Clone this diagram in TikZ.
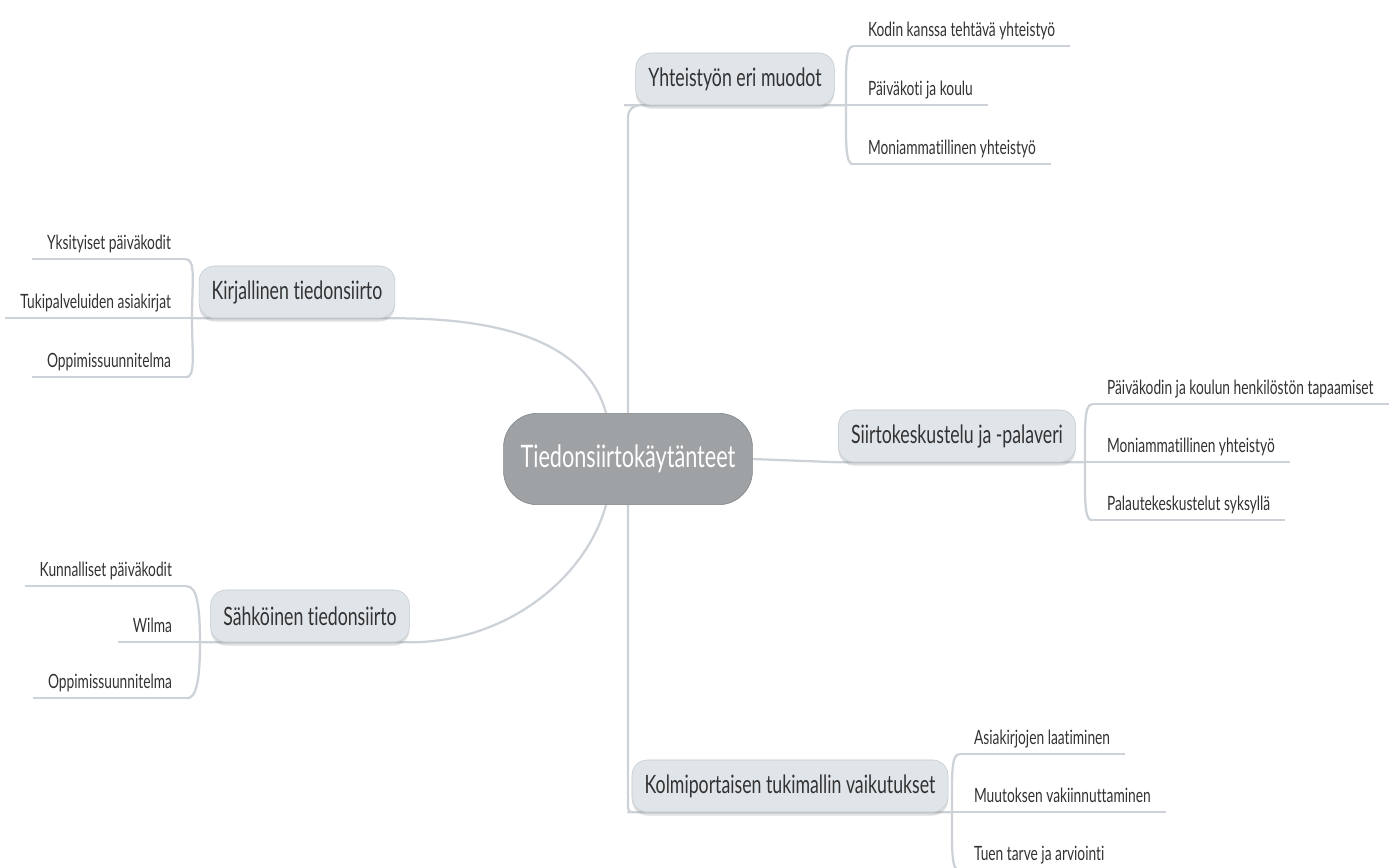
\documentclass[tikz,border=0pt]{standalone}
\usepackage{fontspec}
\setmainfont{Lato}[FakeStretch=0.7, Ligatures=NoCommon]
\usetikzlibrary{calc,backgrounds,shadows}
\definecolor{linegray}{RGB}{204,210,215}
\definecolor{topicfill}{RGB}{224,229,233}
\definecolor{topicdraw}{RGB}{196,202,207}
\definecolor{hubfill}{RGB}{158,162,165}
\definecolor{hubdraw}{RGB}{128,132,135}
\definecolor{inkgray}{RGB}{50,50,50}
\begin{document}
\begin{tikzpicture}[x=0.025cm, y=-0.025cm, line join=round, line cap=round]
		\tikzset{
		hub/.style={draw=hubdraw, fill=hubfill, text=white, rounded corners=24pt, minimum width=177pt, minimum height=65pt, font=\fontsize{22}{26}\selectfont},
		topic/.style={draw=topicdraw, fill=topicfill, text=inkgray, rounded corners=11pt, minimum height=37pt, inner xsep=9pt, font=\fontsize{18}{22}\selectfont, drop shadow={shadow xshift=0pt, shadow yshift=-2.5pt, opacity=.25}},
		leaf/.style={text=inkgray, inner xsep=10.5pt, inner ysep=7pt, text depth=0pt, font=\fontsize{14}{17}\selectfont},
		link/.style={draw=linegray, line width=1.6pt}
		}
		\useasboundingbox (0,0) rectangle (1395,868);
		\node[hub] (hub) at (628,459) {Tiedonsiirtokäytänteet};
		\node[topic] (yht) at (735,79) {Yhteistyön eri muodot};
		\node[topic] (kir) at (297,292) {Kirjallinen tiedonsiirto};
		\node[topic] (sah) at (310,616) {Sähköinen tiedonsiirto};
		\node[topic] (sii) at (957,436) {Siirtokeskustelu ja -palaveri};
		\node[topic] (kol) at (790,786) {Kolmiportaisen tukimallin vaikutukset};
		\coordinate (yhtj) at (846,0 |- yht.south);
		\coordinate (kirj) at (192,0 |- kir.south);
		\coordinate (sahj) at (200,0 |- sah.south);
		\coordinate (siij) at (1085,0 |- sii.south);
		\coordinate (kolj) at (952,0 |- kol.south);
		% leaves
		\foreach \t [count=\i from 0] in {Kodin kanssa tehtävä yhteistyö, Päiväkoti ja koulu, Moniammatillinen yhteistyö}
		\node[leaf, anchor=south west] (yht\i) at ($(yhtj)+(7,59*\i-59)$) {\t};
		\foreach \t [count=\i from 0] in {Yksityiset päiväkodit, Tukipalveluiden asiakirjat, Oppimissuunnitelma}
		\node[leaf, anchor=south east] (kir\i) at ($(kirj)+(-6,59*\i-59)$) {\t};
		\foreach \t [count=\i from 0] in {Kunnalliset päiväkodit, Wilma, Oppimissuunnitelma}
		\node[leaf, anchor=south east] (sah\i) at ($(sahj)+(-13,56*\i-56)$) {\t};
		\foreach \t [count=\i from 0] in {Päiväkodin ja koulun henkilöstön tapaamiset, Moniammatillinen yhteistyö, Palautekeskustelut syksyllä}
		\node[leaf, anchor=south west] (sii\i) at ($(siij)+(7,58*\i-58)$) {\t};
		\foreach \t [count=\i from 0] in {Asiakirjojen laatiminen, Muutoksen vakiinnuttaminen, Tuen tarve ja arviointi}
		\node[leaf, anchor=south west] (kol\i) at ($(kolj)+(7,58*\i-58)$) {\t};
		\begin{pgfonlayer}{background}
		% hub to topics
		\draw[link, rounded corners=8pt] (hub.north) |- (yht.south west) -- (yhtj);
		\draw[link, rounded corners=3pt] (hub.south) |- (kol.south west) -- (kolj);
		\draw[link] (hub.east) -- (sii.south west) -- (siij);
		\draw[link] ($(hub.north)+(-22,0)$) .. controls +(-20,-73) and +(102,0) .. (kir.south east) -- (kir.south west) -- (kirj);
		\draw[link] ($(hub.south)+(-22,0)$) .. controls +(-20,73) and +(97,0) .. (sah.south east) -- (sah.south west) -- (sahj);
		% brackets
		\foreach \b in {yht,sii,kol}{
		\draw[link] (\b0.south west) .. controls +(-8,0) and +(0,-35) .. (\b j) .. controls +(0,35) and +(-8,0) .. (\b2.south west);
		\draw[link] (\b j) -- (\b1.south west);
		}
		\foreach \b in {kir,sah}{
		\draw[link] (\b0.south east) .. controls +(10,0) and +(0,-35) .. (\b j) .. controls +(0,35) and +(10,0) .. (\b2.south east);
		\draw[link] (\b j) -- (\b1.south east);
		}
		\foreach \b in {yht,kir,sah,sii,kol}
		\foreach \i in {0,1,2}{
		\draw[link] (\b\i.south west) -- (\b\i.south east);
		}
		\end{pgfonlayer}
	\end{tikzpicture}
\end{document}
